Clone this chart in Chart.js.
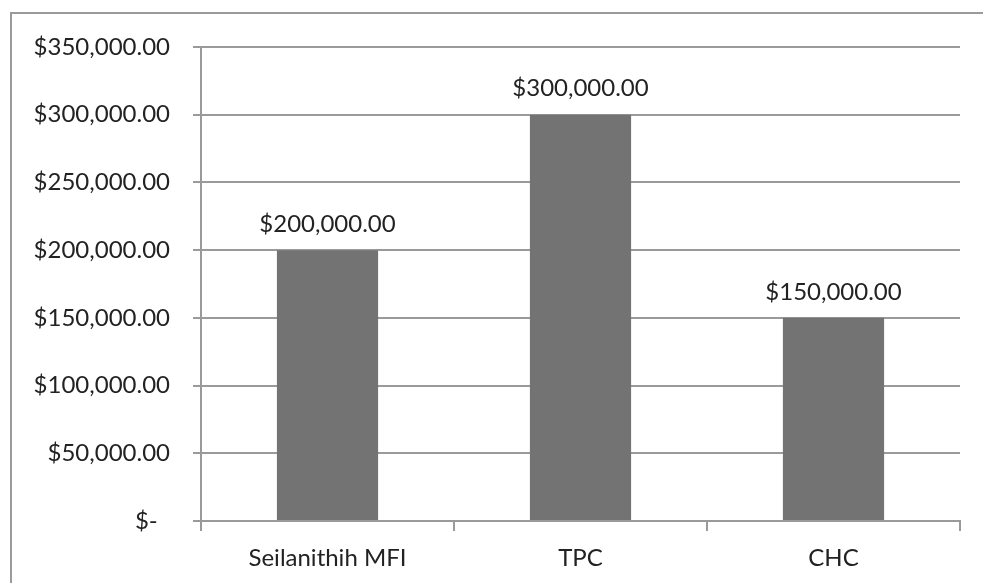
<!DOCTYPE html>
<html>
<head>
<meta charset="utf-8">
<script src="https://cdn.jsdelivr.net/npm/chart.js@4"></script>
<style>
  html, body { margin: 0; padding: 0; background: #fff; }
  #wrap { width: 983px; height: 583px; }
</style>
</head>
<body>
<div id="wrap"><canvas id="grafica" width="983" height="583"></canvas></div>
<script>
const categorias = ['Seilanithih MFI', 'TPC', 'CHC'];
const montos = [200000, 300000, 150000];
const ejeMax = 350000;
const ejePaso = 50000;

const gris = '#9a9a9a';
const fuente = 'Lato, "Open Sans", sans-serif';

function dinero(v) {
  if (v === 0) return '$-  ';
  return '$' + v.toLocaleString('en-US', { minimumFractionDigits: 2, maximumFractionDigits: 2 });
}

// marco del grafico (solo se ve arriba y a la izquierda)
const marco = {
  id: 'marco',
  beforeDraw(chart) {
    const ctx = chart.ctx;
    ctx.save();
    ctx.strokeStyle = gris;
    ctx.lineWidth = 2;
    ctx.beginPath();
    ctx.moveTo(11, 600);
    ctx.lineTo(11, 13);
    ctx.lineTo(990, 13);
    ctx.stroke();
    ctx.restore();
  }
};

// etiquetas de valor encima de cada barra
const etiquetas = {
  id: 'etiquetas',
  afterDatasetsDraw(chart) {
    const ctx = chart.ctx;
    const meta = chart.getDatasetMeta(0);
    ctx.save();
    ctx.font = '24px ' + fuente;
    ctx.fillStyle = '#222';
    ctx.textAlign = 'center';
    ctx.textBaseline = 'bottom';
    meta.data.forEach((bar, i) => {
      ctx.fillText(dinero(chart.data.datasets[0].data[i]), bar.x, bar.y - 14);
    });
    ctx.restore();
  }
};

new Chart(document.getElementById('grafica'), {
  type: 'bar',
  data: {
    labels: categorias,
    datasets: [{
      data: montos,
      backgroundColor: '#737373',
      borderWidth: 0,
      categoryPercentage: 1,
      barPercentage: 0.4
    }]
  },
  options: {
    responsive: false,
    animation: false,
    layout: { padding: { top: 47, right: 23, left: 0, bottom: 0 } },
    plugins: { legend: { display: false }, tooltip: { enabled: false } },
    scales: {
      x: {
        afterFit: s => { s.height = 62; },
        grid: { drawOnChartArea: false, offset: true, tickLength: 10, color: gris, lineWidth: 2 },
        border: { color: gris, width: 2 },
        ticks: { color: '#222', padding: 13, font: { family: fuente, size: 24 } }
      },
      y: {
        min: 0,
        max: ejeMax,
        afterFit: s => { s.width = 201; },
        grid: { tickLength: 8, color: gris, lineWidth: 2 },
        border: { color: gris, width: 2 },
        ticks: {
          stepSize: ejePaso,
          color: '#222',
          padding: 23,
          font: { family: fuente, size: 24 },
          callback: v => dinero(v)
        }
      }
    }
  },
  plugins: [marco, etiquetas]
});
</script>
</body>
</html>
